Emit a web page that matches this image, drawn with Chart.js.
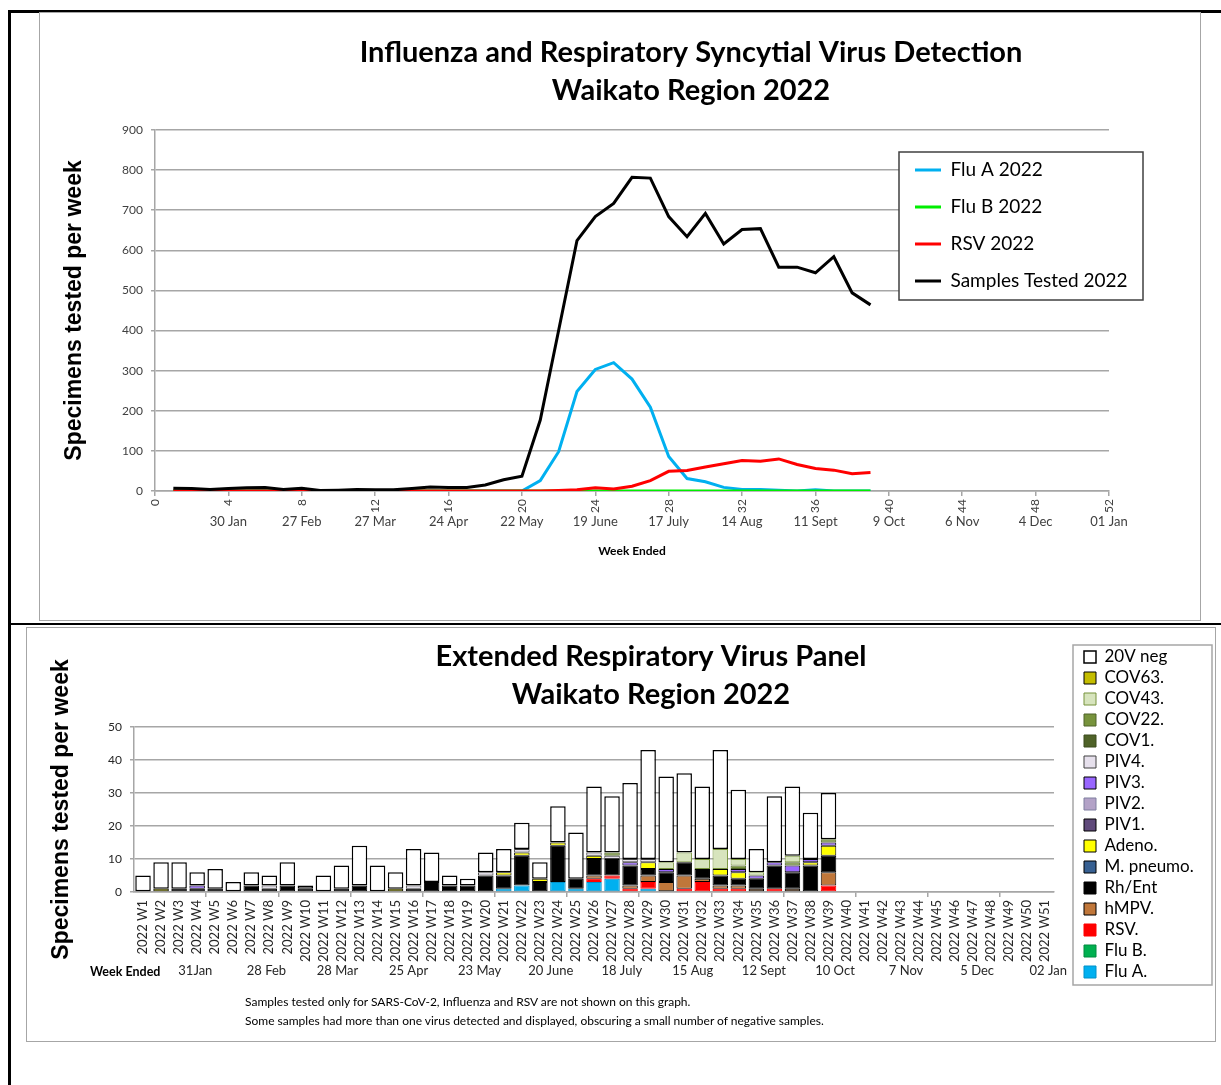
<!DOCTYPE html>
<html>
<head>
<meta charset="utf-8">
<title>Waikato Region 2022</title>
<script src="https://cdn.jsdelivr.net/npm/chart.js@4.4.0/dist/chart.umd.min.js"></script>
<style>
  body { margin: 0; background: #fff; width: 1221px; height: 1085px; position: relative; overflow: hidden; font-family: Lato, sans-serif; }
  .rule { position: absolute; background: #000; }
  .frame { position: absolute; border: 1.5px solid #a6a6a6; box-sizing: border-box; }
  .box { position: absolute; }
  .note { position: absolute; font-size: 12px; line-height: 19px; color: #000; white-space: nowrap; }
</style>
</head>
<body>
<div class="rule" style="left:8px;top:10px;width:1213px;height:2.5px"></div>
<div class="rule" style="left:8px;top:10px;width:2.5px;height:1075px"></div>
<div class="rule" style="left:8px;top:623px;width:1213px;height:2px"></div>
<div class="frame" style="left:39px;top:12px;width:1162px;height:609px"></div>
<div class="frame" style="left:26px;top:627px;width:1190px;height:415px"></div>

<div class="box" style="left:40px;top:13px;width:1160px;height:607px"><canvas id="fluChart"></canvas></div>
<div class="box" style="left:27px;top:628px;width:1188px;height:413px"><canvas id="panelChart"></canvas></div>

<div class="note" style="left:90px;top:962px;font-weight:bold;font-size:12.5px">Week Ended</div>
<div class="note" style="left:245px;top:992px">Samples tested only for SARS-CoV-2, Influenza and RSV are not shown on this graph.</div>
<div class="note" style="left:245px;top:1011px">Some samples had more than one virus detected and displayed, obscuring a small number of negative samples.</div>

<script>
// ---- top chart: weekly detections ----
const fluWeeks = [1, 2, 3, 4, 5, 6, 7, 8, 9, 10, 11, 12, 13, 14, 15, 16, 17, 18, 19, 20,
  21, 22, 23, 24, 25, 26, 27, 28, 29, 30, 31, 32, 33, 34, 35, 36, 37, 38, 39];
const fluA = [0, 0, 0, 0, 0, 0, 0, 0, 0, 0, 0, 0, 0, 0, 0, 0, 0, 0, 0, 0,
  26, 98, 248, 303, 320, 279, 209, 86, 31, 23, 9, 4, 4, 2, 0, 3, 0, 0, 0];
const fluB = [0, 0, 0, 0, 0, 0, 0, 0, 0, 0, 0, 0, 0, 0, 0, 0, 0, 0, 0, 0,
  0, 0, 0, 0, 0, 0, 0, 0, 0, 0, 0, 0, 0, 0, 0, 0, 0, 0, 0];
const rsv = [0, 0, 0, 0, 0, 0, 0, 0, 0, 0, 0, 0, 0, 0, 0, 0, 0, 0, 0, 0,
  0, 1, 3, 8, 5, 12, 26, 49, 51, 60, 68, 76, 74, 80, 66, 56, 52, 43, 46];
const samplesTested = [7, 6, 4, 6, 8, 9, 4, 7, 1, 2, 4, 3, 3, 6, 10, 9, 9, 15, 28, 37,
  177, 400, 624, 684, 717, 782, 780, 684, 634, 692, 616, 652, 654, 558, 558, 544, 584, 494, 464];
const fluDates = ["30 Jan", "27 Feb", "27 Mar", "24 Apr", "22 May", "19 June", "17 July",
  "14 Aug", "11 Sept", "9 Oct", "6 Nov", "4 Dec", "01 Jan"];

// ---- bottom chart: extended respiratory panel ----
const panelWeeks = ["2022 W1", "2022 W2", "2022 W3", "2022 W4", "2022 W5", "2022 W6", "2022 W7",
  "2022 W8", "2022 W9", "2022 W10", "2022 W11", "2022 W12", "2022 W13", "2022 W14", "2022 W15",
  "2022 W16", "2022 W17", "2022 W18", "2022 W19", "2022 W20", "2022 W21", "2022 W22", "2022 W23",
  "2022 W24", "2022 W25", "2022 W26", "2022 W27", "2022 W28", "2022 W29", "2022 W30", "2022 W31",
  "2022 W32", "2022 W33", "2022 W34", "2022 W35", "2022 W36", "2022 W37", "2022 W38", "2022 W39",
  "2022 W40", "2022 W41", "2022 W42", "2022 W43", "2022 W44", "2022 W45", "2022 W46", "2022 W47",
  "2022 W48", "2022 W49", "2022 W50", "2022 W51"];
const panelDates = ["31Jan", "28 Feb", "28 Mar", "25 Apr", "23 May", "20 June", "18 July",
  "15 Aug", "12 Sept", "10 Oct", "7 Nov", "5 Dec", "02 Jan"];
const pFluA = [0, 0, 0, 0, 0, 0, 0, 0, 0, 0, 0, 0, 0, 0, 0, 0, 0, 0, 0, 0,
  1, 2, 0, 3, 1, 3, 4, 0, 1, 0, 0, 0, 0, 0, 0, 0, 0, 0, 0];
const pFluB = [0, 0, 0, 0, 0, 0, 0, 0, 0, 0, 0, 0, 0, 0, 0, 0, 0, 0, 0, 0,
  0, 0, 0, 0, 0, 0, 0, 0, 0, 0, 0, 0, 0, 0, 0, 0, 0, 0, 0];
const pRsv = [0, 0, 0, 0, 0, 0, 0, 0, 0, 0, 0, 0, 0, 0, 0, 0, 0, 0, 0, 0,
  0, 0, 0, 0, 0, 1, 1, 1, 2, 0, 1, 3, 1, 1, 0, 1, 0, 0, 2];
const pHmpv = [0, 0, 0, 0, 0, 0, 0, 0, 0, 0, 0, 0, 0, 0, 0, 0, 0, 0, 0, 0,
  0, 0, 0, 0, 0, 1, 0, 1, 2, 3, 4, 1, 1, 1, 1, 0, 1, 0, 4];
const pRhEnt = [0, 0, 1, 1, 1, 0, 2, 1, 2, 1, 0, 1, 2, 0, 0, 1, 3, 2, 2, 5,
  4, 9, 3, 11, 3, 5, 5, 6, 2, 3, 4, 3, 3, 2, 3, 7, 5, 8, 5];
const pMpneumo = [0, 0, 0, 0, 0, 0, 0, 0, 0, 0, 0, 0, 0, 0, 0, 0, 0, 0, 0, 0,
  0, 0, 0, 0, 0, 0, 0, 0, 0, 0, 0, 0, 0, 0, 0, 0, 0, 0, 0];
const pAdeno = [0, 1, 0, 0, 0, 0, 0, 0, 0, 0, 0, 0, 0, 0, 1, 0, 0, 0, 0, 0,
  1, 1, 1, 1, 0, 1, 0, 0, 2, 0, 0, 0, 2, 2, 0, 0, 0, 1, 3];
const pPiv1 = [0, 0, 0, 0, 0, 0, 0, 0, 0, 0, 0, 0, 0, 0, 0, 0, 0, 0, 0, 0,
  0, 0, 0, 0, 0, 0, 0, 0, 0, 0, 0, 0, 0, 0, 0, 0, 0, 0, 0];
const pPiv2 = [0, 0, 0, 0, 0, 0, 0, 0, 0, 0, 0, 0, 0, 0, 0, 0, 0, 0, 0, 0,
  0, 0, 0, 0, 0, 0, 0, 0, 0, 0, 0, 0, 0, 0, 0, 0, 0, 0, 0];
const pPiv3 = [0, 0, 0, 1, 0, 0, 0, 0, 0, 0, 0, 0, 0, 0, 0, 0, 0, 0, 0, 0,
  0, 0, 0, 0, 0, 0, 0, 1, 0, 1, 0, 0, 0, 1, 1, 1, 2, 1, 1];
const pPiv4 = [0, 0, 0, 0, 0, 0, 0, 1, 0, 0, 0, 0, 0, 0, 0, 1, 0, 0, 0, 1,
  0, 1, 0, 0, 0, 1, 1, 1, 1, 0, 0, 0, 0, 0, 0, 0, 0, 0, 0];
const pCov1 = [0, 0, 0, 0, 0, 0, 0, 0, 0, 0, 0, 0, 0, 0, 0, 0, 0, 0, 0, 0,
  0, 0, 0, 0, 0, 0, 0, 0, 0, 0, 0, 0, 0, 0, 0, 0, 0, 0, 0];
const pCov22 = [0, 0, 0, 0, 0, 0, 0, 0, 0, 0, 0, 0, 0, 0, 0, 0, 0, 0, 0, 0,
  0, 0, 0, 0, 0, 0, 1, 0, 0, 0, 0, 0, 0, 1, 0, 0, 1, 0, 1];
const pCov43 = [0, 0, 0, 0, 0, 0, 0, 0, 0, 0, 0, 0, 0, 0, 0, 0, 0, 0, 0, 0,
  0, 0, 0, 0, 0, 0, 0, 0, 0, 2, 3, 3, 6, 2, 1, 0, 2, 0, 0];
const pCov63 = [0, 0, 0, 0, 0, 0, 0, 0, 0, 0, 0, 0, 0, 0, 0, 0, 0, 0, 0, 0,
  0, 0, 0, 0, 0, 0, 0, 0, 0, 0, 0, 0, 0, 0, 0, 0, 0, 0, 0];
const pNeg = [5, 8, 8, 4, 6, 3, 4, 3, 7, 1, 5, 7, 12, 8, 5, 11, 9, 3, 2, 6,
  7, 8, 5, 11, 14, 20, 17, 23, 33, 26, 24, 22, 30, 21, 7, 20, 21, 14, 14];

Chart.defaults.font.family = "Lato, sans-serif";
Chart.defaults.color = "#262626";

// moves title / legend after layout, and puts a framed white box behind the legend
const placeBoxes = {
  id: "placeBoxes",
  afterLayout(chart, args, opts) {
    const t = chart.titleBlock;
    if (t && opts.titleX) {
      const dx = opts.titleX - (t.left + t.right) / 2;
      t.left += dx;
      t.right += dx;
    }
    const lg = chart.legend;
    const p = opts.legend;
    if (lg && p) {
      lg.update(p.w, p.h, { left: 0, top: 0, right: 0, bottom: 0 });
      lg.left = p.x;
      lg.top = p.y;
      lg.right = p.x + p.w;
      lg.bottom = p.y + p.h;
      lg.width = p.w;
      lg.height = p.h;
    }
  },
  afterDatasetsDraw(chart, args, opts) {
    const f = opts.frame;
    if (!f) return;
    const ctx = chart.ctx;
    ctx.save();
    ctx.fillStyle = "#fff";
    ctx.fillRect(f.x, f.y, f.w, f.h);
    ctx.strokeStyle = f.color;
    ctx.lineWidth = 1.5;
    ctx.strokeRect(f.x, f.y, f.w, f.h);
    ctx.restore();
    chart.legend.draw();
  },
};

const gridGrey = "#a6a6a6";
const titleFont = { size: 29, weight: "bold", lineHeight: 1.31 };
const axisTitleFont = { family: "Liberation Sans, Arial, sans-serif", size: 23, weight: "bold" };
const toPoints = (arr) => fluWeeks.map((w, i) => ({ x: w, y: arr[i] }));
const lineSet = (label, arr, color) => ({
  label: label,
  data: toPoints(arr),
  borderColor: color,
  backgroundColor: color,
  borderWidth: 3,
  pointRadius: 0,
  tension: 0,
});

new Chart(document.getElementById("fluChart"), {
  type: "line",
  data: {
    // samples first so it is drawn on top; legend is reversed
    datasets: [
      lineSet("Samples Tested 2022", samplesTested, "#000000"),
      lineSet("RSV 2022", rsv, "#ff0000"),
      lineSet("Flu B 2022", fluB, "#00ee00"),
      lineSet("Flu A 2022", fluA, "#00b0f0"),
    ],
  },
  options: {
    responsive: true,
    maintainAspectRatio: false,
    animation: false,
    layout: { padding: { left: 0, right: 91, top: 0, bottom: 58 } },
    plugins: {
      tooltip: { enabled: false },
      title: {
        display: true,
        text: ["Influenza and Respiratory Syncytial Virus Detection", "Waikato Region 2022"],
        color: "#000",
        font: titleFont,
        padding: { top: 21, bottom: 20 },
      },
      legend: {
        position: "chartArea",
        align: "start",
        reverse: true,
        labels: {
          usePointStyle: true,
          pointStyle: "line",
          pointStyleWidth: 26,
          padding: 18,
          color: "#000",
          font: { size: 19 },
        },
      },
      placeBoxes: {
        titleX: 651,
        legend: { x: 857, y: 129.5, w: 244, h: 200 },
        frame: { x: 859, y: 139, w: 244, h: 148, color: "#404040" },
      },
    },
    scales: {
      x: {
        type: "linear",
        min: 0,
        max: 52,
        position: "bottom",
        weight: 0,
        afterFit: (s) => { s.height = 23; },
        ticks: { stepSize: 4, autoSkip: false, minRotation: 90, maxRotation: 90, font: { size: 12 }, color: "#404040" },
        grid: { drawOnChartArea: false, tickLength: 5, color: gridGrey, lineWidth: 1.5 },
        border: { color: gridGrey, width: 1.5 },
      },
      x2: {
        type: "linear",
        axis: "x",
        min: 0,
        max: 52,
        offset: false,
        position: "bottom",
        weight: 1,
        afterFit: (s) => { s.height = 48; },
        ticks: {
          stepSize: 4,
          autoSkip: false,
          maxRotation: 0,
          padding: 0,
          font: { size: 13 },
          color: "#404040",
          callback: (v) => (v === 0 ? "" : fluDates[v / 4 - 1]),
        },
        grid: { display: false, drawTicks: false, tickLength: 0 },
        border: { display: false },
        title: {
          display: true,
          text: "Week Ended",
          color: "#000",
          font: { size: 12, weight: "bold" },
          padding: { top: 4, bottom: 4 },
        },
      },
      y: {
        min: 0,
        max: 900,
        afterFit: (s) => { s.width = 115; },
        ticks: { stepSize: 100, padding: 8, font: { size: 12 }, color: "#404040" },
        grid: { color: gridGrey, lineWidth: 1.5, tickLength: 4 },
        border: { color: gridGrey, width: 1.5 },
        title: {
          display: true,
          text: "Specimens tested per week",
          color: "#000",
          font: axisTitleFont,
          padding: { top: 21, bottom: 21 },
        },
      },
    },
  },
  plugins: [placeBoxes],
});

const barSet = (label, arr, fill, border, dash, width) => ({
  label: label,
  data: arr.map((v) => v || null),
  backgroundColor: fill,
  borderColor: border,
  borderDash: dash,
  borderWidth: width,
  borderSkipped: false,
});

new Chart(document.getElementById("panelChart"), {
  type: "bar",
  data: {
    labels: panelWeeks,
    datasets: [
      barSet("Flu A.", pFluA, "#00b0f0", "#0090c8", [2, 1], 1),
      barSet("Flu B.", pFluB, "#00b050", "#008a3e", [2, 1], 1),
      barSet("RSV.", pRsv, "#ff0000", "#ff0000", [], 1),
      barSet("hMPV.", pHmpv, "#c0773a", "#000", [], 1),
      barSet("Rh/Ent", pRhEnt, "#000000", "#000", [], 1),
      barSet("M. pneumo.", pMpneumo, "#376092", "#000", [], 1),
      barSet("Adeno.", pAdeno, "#ffff00", "#000", [], 1),
      barSet("PIV1.", pPiv1, "#604a7b", "#000", [], 1),
      barSet("PIV2.", pPiv2, "#b3a2c7", "#7f7f9f", [], 1),
      barSet("PIV3.", pPiv3, "#9966ff", "#000", [], 1),
      barSet("PIV4.", pPiv4, "#e6e0ec", "#404040", [3, 2], 1),
      barSet("COV1.", pCov1, "#4f6228", "#3a4a1c", [2, 1], 1),
      barSet("COV22.", pCov22, "#77933c", "#4f6228", [2, 2], 1),
      barSet("COV43.", pCov43, "#d7e4bd", "#77933c", [3, 2], 1),
      barSet("COV63.", pCov63, "#c4bd00", "#000", [], 1),
      barSet("20V neg", pNeg, "#ffffff", "#000", [], 1.5),
    ],
  },
  options: {
    responsive: true,
    maintainAspectRatio: false,
    animation: false,
    layout: { padding: { left: 0, right: 161, top: 0, bottom: 62 } },
    datasets: { bar: { barPercentage: 0.86, categoryPercentage: 1 } },
    plugins: {
      tooltip: { enabled: false },
      title: {
        display: true,
        text: ["Extended Respiratory Virus Panel", "Waikato Region 2022"],
        color: "#000",
        font: titleFont,
        padding: { top: 10, bottom: 13 },
      },
      legend: {
        position: "chartArea",
        align: "start",
        reverse: true,
        labels: {
          boxWidth: 12,
          boxHeight: 12,
          padding: 4,
          color: "#000",
          font: { size: 17 },
        },
      },
      placeBoxes: {
        titleX: 624,
        legend: { x: 1053, y: 16.5, w: 136, h: 380 },
        frame: { x: 1046, y: 17, w: 139, h: 340, color: "#a6a6a6" },
      },
    },
    scales: {
      x: {
        stacked: true,
        position: "bottom",
        weight: 0,
        afterFit: (s) => { s.height = 71; },
        ticks: { autoSkip: false, minRotation: 90, maxRotation: 90, font: { size: 13 }, color: "#262626" },
        grid: {
          drawOnChartArea: false,
          tickLength: 5,
          lineWidth: 1.5,
          color: (c) => (c.index > 0 && c.index % 4 === 0 ? gridGrey : "rgba(0,0,0,0)"),
        },
        border: { color: gridGrey, width: 1.5 },
      },
      x2: {
        type: "linear",
        axis: "x",
        min: -0.5,
        max: 50.5,
        offset: false,
        position: "bottom",
        weight: 1,
        afterFit: (s) => { s.height = 16; },
        afterBuildTicks: (s) => {
          s.ticks = panelDates.map((d, k) => ({ value: 2.9 + k * 3.94 }));
        },
        ticks: {
          autoSkip: false,
          maxRotation: 0,
          padding: 0,
          font: { size: 13 },
          color: "#262626",
          callback: (v, i) => panelDates[i],
        },
        grid: { display: false, drawTicks: false, tickLength: 0, offset: false },
        border: { display: false },
      },
      y: {
        stacked: true,
        min: 0,
        max: 50,
        afterFit: (s) => { s.width = 107; },
        ticks: { stepSize: 5, padding: 8, font: { size: 12 }, color: "#262626" },
        grid: { color: gridGrey, lineWidth: 1.5, tickLength: 4 },
        border: { color: gridGrey, width: 1.5 },
        title: {
          display: true,
          text: "Specimens tested per week",
          color: "#000",
          font: axisTitleFont,
          padding: { top: 21, bottom: 21 },
        },
      },
    },
  },
  plugins: [placeBoxes],
});
</script>
</body>
</html>
